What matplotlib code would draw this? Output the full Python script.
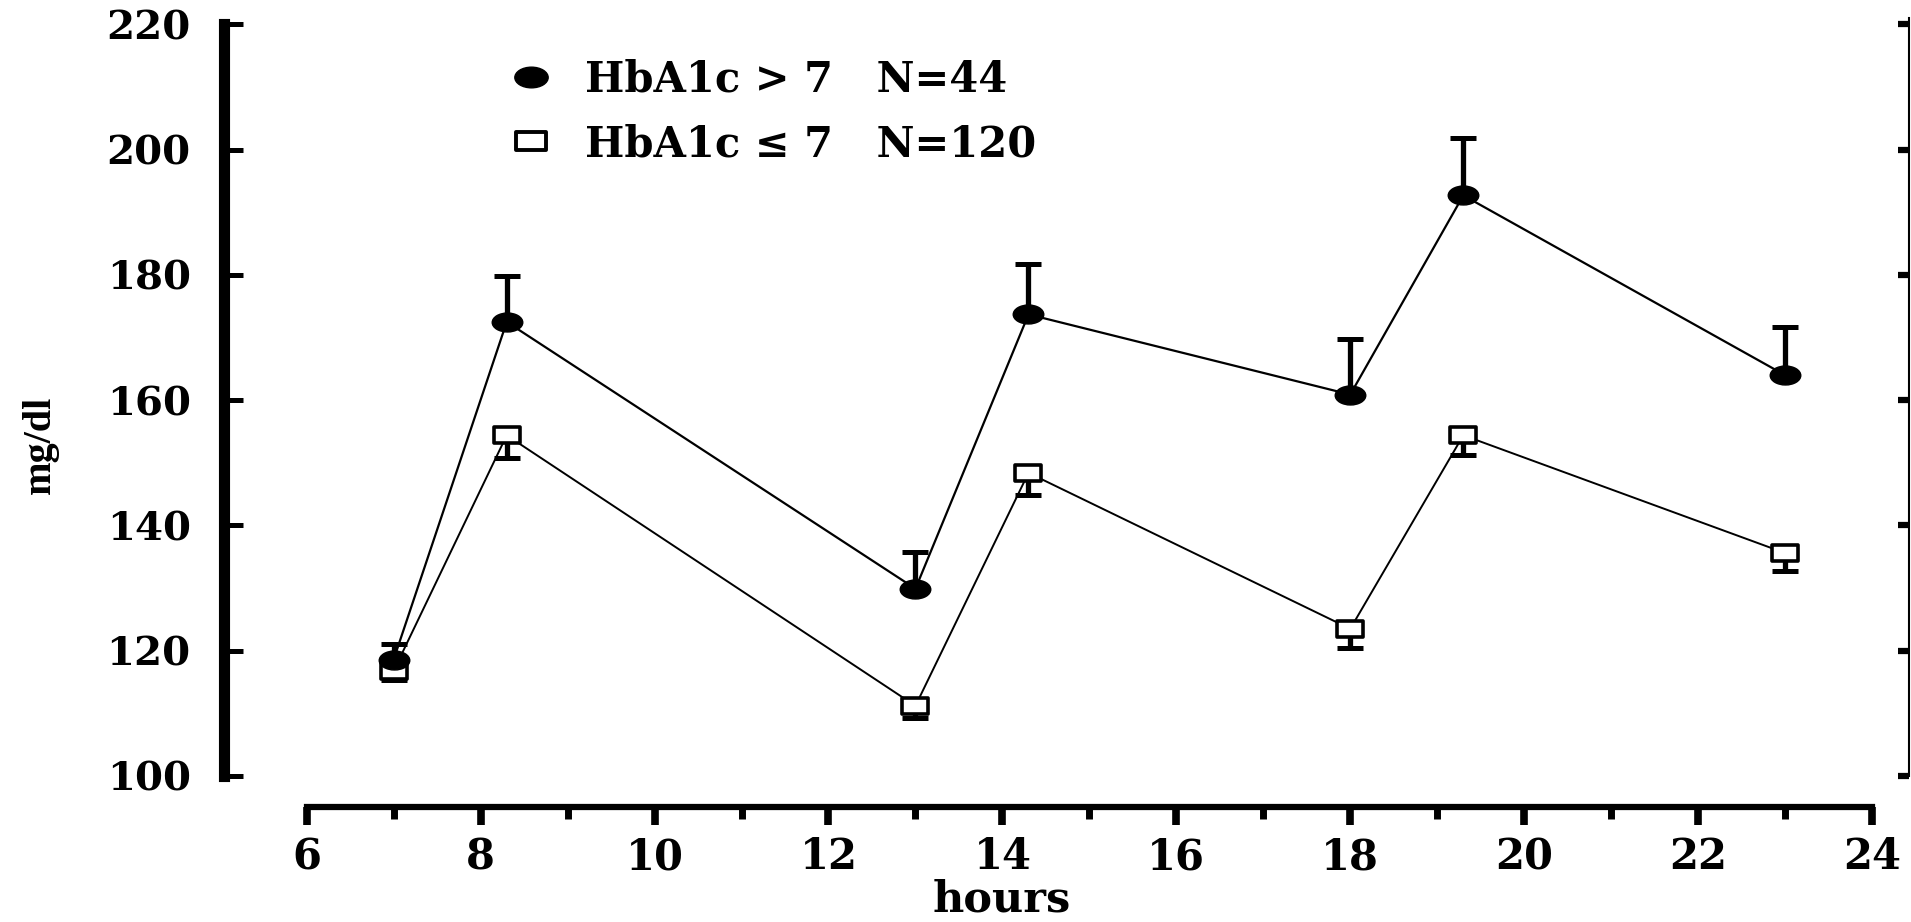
"""
Mean glucose profile over the day, HbA1c > 7 vs HbA1c <= 7.
Output: out.png
"""

import numpy as np
import matplotlib
matplotlib.use("Agg")
import matplotlib.pyplot as plt
from matplotlib.lines import Line2D
from matplotlib.path import Path
from matplotlib.ticker import MultipleLocator
from matplotlib.transforms import Affine2D

# ── Data ──────────────────────────────────────────────────────────────────────
hours = [7.0, 8.3, 13.0, 14.3, 18.0, 19.3, 23.0]

high_mean = [118.6, 172.5, 129.9, 173.7, 160.9, 192.7, 164.0]   # HbA1c > 7
high_err = [2.4, 7.4, 5.9, 8.0, 8.9, 9.1, 7.7]                  # upper bars

low_mean = [116.8, 154.4, 111.2, 148.4, 123.5, 154.4, 135.6]    # HbA1c <= 7
low_err = [1.5, 3.7, 1.9, 3.5, 3.1, 3.1, 2.8]                   # lower bars

high_label = "HbA1c > 7   N=44"
low_label = "HbA1c \u2264 7   N=120"

# ── Style ─────────────────────────────────────────────────────────────────────
INK = "black"
SERIF = "DejaVu Serif"
plt.rcParams["font.family"] = [SERIF]
plt.rcParams["font.weight"] = "bold"

# squashed markers (the original figure is stretched horizontally)
ELLIPSE = Path.unit_circle().transformed(Affine2D().scale(1.0, 0.62))
RECT = Path(
    [(-1, -0.62), (1, -0.62), (1, 0.62), (-1, 0.62), (-1, -0.62)],
    [Path.MOVETO, Path.LINETO, Path.LINETO, Path.LINETO, Path.CLOSEPOLY],
)


def main():
    W, H = 1911, 922
    fig = plt.figure(figsize=(W / 100, H / 100), dpi=100)
    fig.patch.set_facecolor("white")

    left_px, right_px, bottom_px, top_px = 224, 1909, 806.5, 10
    ax = fig.add_axes([
        left_px / W, 1 - bottom_px / H,
        (right_px - left_px) / W, (bottom_px - top_px) / H,
    ])
    ax.set_xlim(5.049, 24.425)
    ax.set_ylim(95.13, 222.3)

    zeros = np.zeros(len(hours))

    # error bars (one sided)
    ax.errorbar(hours, high_mean, yerr=[zeros, high_err], fmt="none",
                ecolor=INK, elinewidth=3.8, capsize=9.5, capthick=3.6, zorder=2)
    ax.errorbar(hours, low_mean, yerr=[low_err, zeros], fmt="none",
                ecolor=INK, elinewidth=3.8, capsize=9.5, capthick=3.6, zorder=2)

    # lines + markers
    ax.plot(hours, high_mean, color=INK, lw=1.6, marker=ELLIPSE,
            markersize=22, markerfacecolor=INK, markeredgecolor=INK, zorder=4)
    ax.plot(hours, low_mean, color=INK, lw=1.4, marker=RECT,
            markersize=19, markerfacecolor="white", markeredgecolor=INK,
            markeredgewidth=2.6, zorder=3)

    # ── Axes / spines ─────────────────────────────────────────────────────────
    ax.spines["top"].set_visible(False)
    ax.spines["right"].set_visible(False)
    ax.spines["left"].set_linewidth(8)
    ax.spines["left"].set_bounds(100, 220)
    ax.spines["bottom"].set_linewidth(4.5)
    ax.spines["bottom"].set_bounds(6, 24)

    ax.xaxis.set_major_locator(MultipleLocator(2))
    ax.xaxis.set_minor_locator(MultipleLocator(1))
    ax.set_xticks(np.arange(6, 25, 2))
    ax.tick_params(axis="x", which="major", direction="out", length=13.3,
                   width=5.5, pad=8, labelsize=30, color=INK)
    ax.tick_params(axis="x", which="minor", direction="out", length=8.3,
                   width=5.0, color=INK)

    ax.set_yticks(np.arange(100, 221, 20))
    ax.tick_params(axis="y", which="major", direction="in", length=13.5,
                   width=3.6, pad=24, labelsize=29, color=INK)
    for lab in ax.get_xticklabels() + ax.get_yticklabels():
        lab.set_fontweight("bold")

    # thin right-hand axis
    ax2 = ax.twinx()
    ax2.set_ylim(ax.get_ylim())
    for side in ("left", "top", "bottom"):
        ax2.spines[side].set_visible(False)
    ax2.spines["right"].set_linewidth(1.5)
    ax2.spines["right"].set_bounds(100, 221)
    ax2.set_yticks(np.arange(100, 221, 20))
    ax2.tick_params(axis="y", direction="in", length=8, width=4.5,
                    labelright=False, color=INK)

    # ── Labels ────────────────────────────────────────────────────────────────
    fig.text(40 / W, 1 - 445 / H, "mg/dl", rotation=90, ha="center",
             va="center", fontsize=29, fontweight="bold",
             family="Liberation Serif")
    fig.text(1002 / W, 1.5 / H, "hours", ha="center", va="bottom",
             fontsize=31, fontweight="bold")

    # ── Legend ────────────────────────────────────────────────────────────────
    handles = [
        Line2D([], [], ls="none", marker=ELLIPSE, markersize=24,
               markerfacecolor=INK, markeredgecolor=INK),
        Line2D([], [], ls="none", marker=RECT, markersize=21,
               markerfacecolor="white", markeredgecolor=INK,
               markeredgewidth=2.8),
    ]
    ax.legend(handles, [high_label, low_label], loc="upper left",
              bbox_to_anchor=(510 / W, 1 - 59 / H),
              bbox_transform=fig.transFigure, frameon=False,
              prop={"family": SERIF, "weight": "bold", "size": 30},
              handlelength=1.0, handletextpad=0.8, labelspacing=0.53,
              borderpad=0, borderaxespad=0)

    fig.savefig("out.png", dpi=100, facecolor="white")


if __name__ == "__main__":
    main()
